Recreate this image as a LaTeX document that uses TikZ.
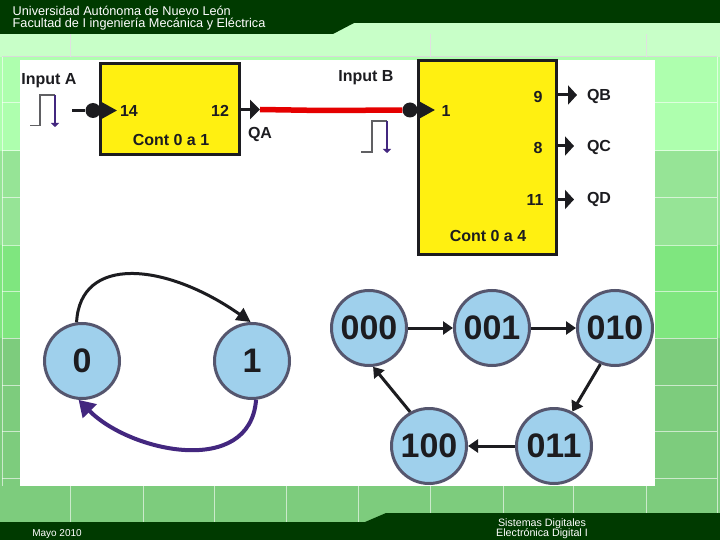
\documentclass[tikz,border=0pt]{standalone}
\usepackage{fontspec}
\setmainfont{Liberation Sans}
\usetikzlibrary{arrows.meta}
\definecolor{bandc}{HTML}{003A00}
\definecolor{rowa}{HTML}{C8FFC8}
\definecolor{rowb}{HTML}{AEFFAE}
\definecolor{rowc}{HTML}{96E496}
\definecolor{rowd}{HTML}{7FE67F}
\definecolor{rowe}{HTML}{7DCC7D}
\definecolor{boxy}{HTML}{FFF011}
\definecolor{ink}{HTML}{1C1C20}
\definecolor{bluef}{HTML}{9FD0EC}
\definecolor{blued}{HTML}{55566E}
\definecolor{purp}{HTML}{43277F}
\tikzset{
 x=1pt,y=-1pt,
 lab/.style={font=\bfseries\fontsize{#1}{#1}\selectfont,text=ink,inner sep=0pt},
 band/.style={font=\fontsize{12.7}{14}\selectfont,text=white,inner sep=0pt,anchor=west},
 foot/.style={font=\fontsize{10}{12}\selectfont,text=white,inner sep=0pt},
 foot2/.style={font=\fontsize{10.7}{12}\selectfont,text=white,inner sep=0pt},
 ybox/.style={draw=ink,line width=3pt,fill=boxy,inner sep=0pt},
 st/.style={circle,draw=blued,fill=bluef,line width=3pt,minimum size=75pt,inner sep=0pt,text=ink,font=\bfseries\fontsize{#1}{#1}\selectfont},
 wire/.style={draw=ink,line width=3pt},
 pintip/.style={draw=ink,line width=3pt,-{Triangle[length=#1,width=19pt]}},
 ctip/.style={-{Triangle[length=10pt,width=13pt]},draw=ink,line width=3pt},
 gridw/.style={draw=white,opacity=.6,line width=1pt},
 dotn/.style={circle,fill=ink,minimum size=15pt,inner sep=0pt},
}
\begin{document}
\begin{tikzpicture}
\useasboundingbox (0,0) rectangle (720,540);
% background rows
\fill[rowa] (0,23) rectangle (720,57);
\fill[rowb] (0,57) rectangle (720,151);
\fill[rowc] (0,151) rectangle (720,245);
\fill[rowd] (0,245) rectangle (720,338);
\fill[rowe] (0,338) rectangle (720,522);
\foreach \yy in {103,151,198,245,291,338,385,431,478} {
  \draw[gridw] (2,\yy) -- (20,\yy);
  \draw[gridw] (655,\yy) -- (717,\yy);
}
\draw[black!15,line width=1pt] (2,57) -- (717,57);
\draw[gridw] (2,57) -- (2,486);
\draw[gridw] (717,57) -- (717,522);
\foreach \xx in {70,430,646} \draw[black!12,line width=1pt] (\xx,34) -- (\xx,57);
\foreach \xx in {70,143,214,286,358,430,503,573,646} \draw[gridw] (\xx,486) -- (\xx,522);
% dark bands
\fill[bandc] (0,0) -- (720,0) -- (720,23) -- (354,23) -- (333,34) -- (0,34) -- cycle;
\fill[bandc] (0,540) -- (720,540) -- (720,513) -- (386,513) -- (365,522) -- (0,522) -- cycle;
\node[band] (ta) at (12.5,10.5) {Universidad Autónoma de Nuevo León};
\node[band] (tb) at (12.5,24.5) {Facultad de I ingeniería Mecánica y Eléctrica};
\node[foot] (fa) at (57,534.5) {Mayo 2010};
\node[foot2] (fb) at (542,523.5) {Sistemas Digitales};
\node[foot2] (fc) at (542,533.5) {Electrónica Digital I};
% white panel
\fill[white] (20,60) rectangle (655,486);
% boxes
\node[ybox,minimum width=139pt,minimum height=91pt] (ca) at (169.5,109.5) {};
\node[ybox,minimum width=138pt,minimum height=193pt] (cb) at (487,157.5) {};
% red link
\coordinate (ain) at (72,110.5);
\node[dotn] (dota) at (93,110.5) {};
\node[dotn] (dotb) at (410,110) {};
\coordinate (qaend) at (260,109.5);
\coordinate (ta1) at (117,110.5);
\coordinate (tb1) at (435,110);
\draw[draw=red!90!black,line width=5.5pt] (qaend) -- (322,110.5) -- (dotb);
\draw[wire] (ain) -- (dota);
\draw[pintip=18pt] (dota) -- (ta1);
\draw[pintip=18pt] (dotb) -- (tb1);
\draw[pintip=10pt] (ca.east |- qaend) -- (qaend);
% labels
\node[lab=16] (ia) at (49,81) {Input A};
\node[lab=16] (ib) at (366,78) {Input B};
\node[lab=16] (n14) at (129,110.5) {14};
\node[lab=16] (n12) at (220,110.5) {12};
\node[lab=16] (qa) at (260,134) {QA};
\node[lab=16] (ct1) at (171,139.5) {Cont 0 a 1};
\node[lab=16] (n1) at (446,111) {1};
\node[lab=16] (n9) at (538,97) {9};
\node[lab=16] (n8) at (538,148) {8};
\node[lab=16] (n11) at (535,199.5) {11};
\node[lab=16] (ct4) at (488,236) {Cont 0 a 4};
\node[lab=16] (qb) at (599,96) {QB};
\node[lab=16] (qc) at (599,147.5) {QC};
\node[lab=16] (qd) at (599,199) {QD};
% output stubs
\coordinate (ob) at (577,95);
\coordinate (oc) at (574,146);
\coordinate (od) at (574,199.5);
\draw[pintip=9pt] (cb.east |- ob) -- (ob);
\draw[pintip=9pt] (cb.east |- oc) -- (oc);
\draw[pintip=9pt] (cb.east |- od) -- (od);
% pulses
\draw[ink!70,line width=1.4pt] (30,125.5) -- (40,125.5) -- (40,95) -- (55,95);
\draw[purp,line width=1.4pt,-{Triangle[length=4pt,width=8pt]}] (55,95) -- (55,127);
\draw[ink!70,line width=1.4pt] (361,152) -- (372,152) -- (372,121) -- (387,121);
\draw[purp,line width=1.4pt,-{Triangle[length=4pt,width=8pt]}] (387,121) -- (387,153);
% state nodes
\node[st=34] (s0) at (82,361) {0};
\node[st=34] (s1) at (252,361) {1};
\node[st=34] (a) at (369,328) {000};
\node[st=34] (b) at (492,328) {001};
\node[st=34] (c) at (615,328) {010};
\node[st=34] (d) at (554,446) {011};
\node[st=34] (e) at (429,446) {100};
% connectors
\draw[ctip,-{Triangle[length=14pt,width=14pt]}] (s0.98) .. controls (80,255) and (165,262) .. (s1.92);
\draw[purp,line width=4pt,-{Triangle[length=16pt,width=19pt]}] (s1.-84) .. controls (250,478) and (130,452) .. (s0.-95);
\draw[ctip] (a) -- (b);
\draw[ctip] (b) -- (c);
\draw[ctip] (c.-112) -- (d.62);
\draw[ctip] (d) -- (e);
\draw[ctip] (e.119) -- (a.-84);
\end{tikzpicture}
\end{document}
